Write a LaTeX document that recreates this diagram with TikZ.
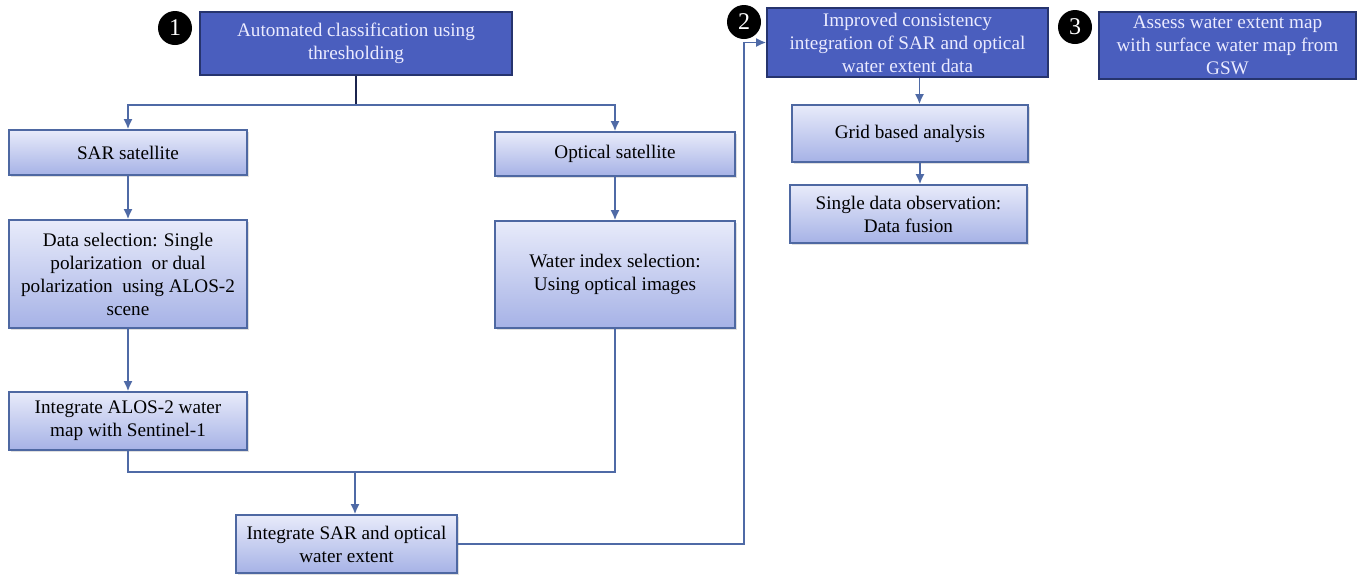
\documentclass[tikz,border=0pt]{standalone}
\usepackage{fontspec}
\setmainfont{Liberation Serif}
\usetikzlibrary{positioning,calc,arrows.meta,shadows}
\definecolor{darkfill}{HTML}{4A5EBE}
\definecolor{darkline}{HTML}{26346E}
\definecolor{lighttop}{HTML}{E8EBFA}
\definecolor{lightbot}{HTML}{A6B2E6}
\definecolor{lightline}{HTML}{4E68A2}
\definecolor{linkcol}{HTML}{4F6AA6}

\begin{document}
\begin{tikzpicture}[x=0.5pt,y=-0.5pt,
  darkbox/.style={draw=darkline, line width=0.8pt, fill=darkfill, text=white!92!blue,
    align=center, inner sep=2pt, font=\fontsize{9.6}{11.5}\selectfont},
  lightbox/.style={draw=lightline, line width=0.8pt, top color=lighttop, bottom color=lightbot,
    align=center, inner sep=2pt, font=\fontsize{9.6}{11.5}\selectfont,
    drop shadow={opacity=0.25, shadow xshift=1pt, shadow yshift=-1pt}},
  numtag/.style={circle, fill=black, text=white, minimum size=17pt, inner sep=0pt,
    font=\fontsize{12}{12}\selectfont},
  link/.style={draw=linkcol, line width=0.85pt},
  arr/.style={link, -{Latex[length=5pt,width=4.5pt]}}
  ]
  \useasboundingbox (0,0) rectangle (1362,575);

  % step 1
  \node[darkbox, minimum width=156pt, minimum height=31.5pt] (thresh) at (356,43.5)
    {Automated classification using\\thresholding};
  \node[numtag] (one) at (175,28) {1};

  \node[lightbox, minimum width=119pt, minimum height=22.5pt] (sar) at (128,152.5) {SAR satellite};
  \node[lightbox, minimum width=120pt, minimum height=22pt] (optical) at (615,154) {Optical satellite};
  \node[lightbox, minimum width=119pt, minimum height=54pt] (datasel) at (128,274)
    {Data selection: Single\\polarization~ or dual\\polarization~ using ALOS-2\\scene};
  \node[lightbox, minimum width=120pt, minimum height=53.5pt] (waterindex) at (615,274.5)
    {Water index selection:\\Using optical images};
  \node[lightbox, minimum width=119pt, minimum height=29pt] (alos) at (128,421)
    {Integrate ALOS-2 water\\map with Sentinel-1};
  \node[lightbox, minimum width=110.5pt, minimum height=29pt] (integ) at (346.5,544)
    {Integrate SAR and optical\\water extent};

  % step 2
  \node[darkbox, minimum width=140.5pt, minimum height=34.5pt] (consist) at (907.5,42.5)
    {Improved consistency\\integration of SAR and optical\\water extent data};
  \node[numtag] (two) at (744,22) {2};
  \node[lightbox, minimum width=118pt, minimum height=28.5pt] (grid) at (910,133.5) {Grid based analysis};
  \node[lightbox, minimum width=118.5pt, minimum height=29pt] (fusion) at (908.5,214)
    {Single data observation:\\Data fusion};

  % step 3
  \node[darkbox, minimum width=128.5pt, minimum height=33.5pt] (assess) at (1227.5,45.5)
    {Assess water extent map\\with surface water map from\\GSW};
  \node[numtag] (three) at (1075,27) {3};

  % connectors
  \coordinate (split) at (356,105);
  \coordinate (merge) at (355,472);
  \coordinate (jog) at (744,300);
  \draw[darkline!70!black, line width=0.7pt] (thresh) -- (split);
  \draw[arr] (split) -| (sar);
  \draw[arr] (split) -| (optical);
  \draw[arr] (sar) -- (datasel);
  \draw[arr] (optical) -- (waterindex);
  \draw[arr] (datasel) -- (alos);
  \draw[link] (alos) |- (merge) -| (waterindex);
  \draw[arr] (merge) -- (merge |- integ.north);
  \draw[arr] (integ) -| (jog) |- (consist);
  \draw[arr] ([xshift=6pt]consist.south) -- ([xshift=6pt]consist.south |- grid.north);
  \draw[arr] ([xshift=5pt]grid.south) -- ([xshift=5pt]grid.south |- fusion.north);
\end{tikzpicture}
\end{document}
